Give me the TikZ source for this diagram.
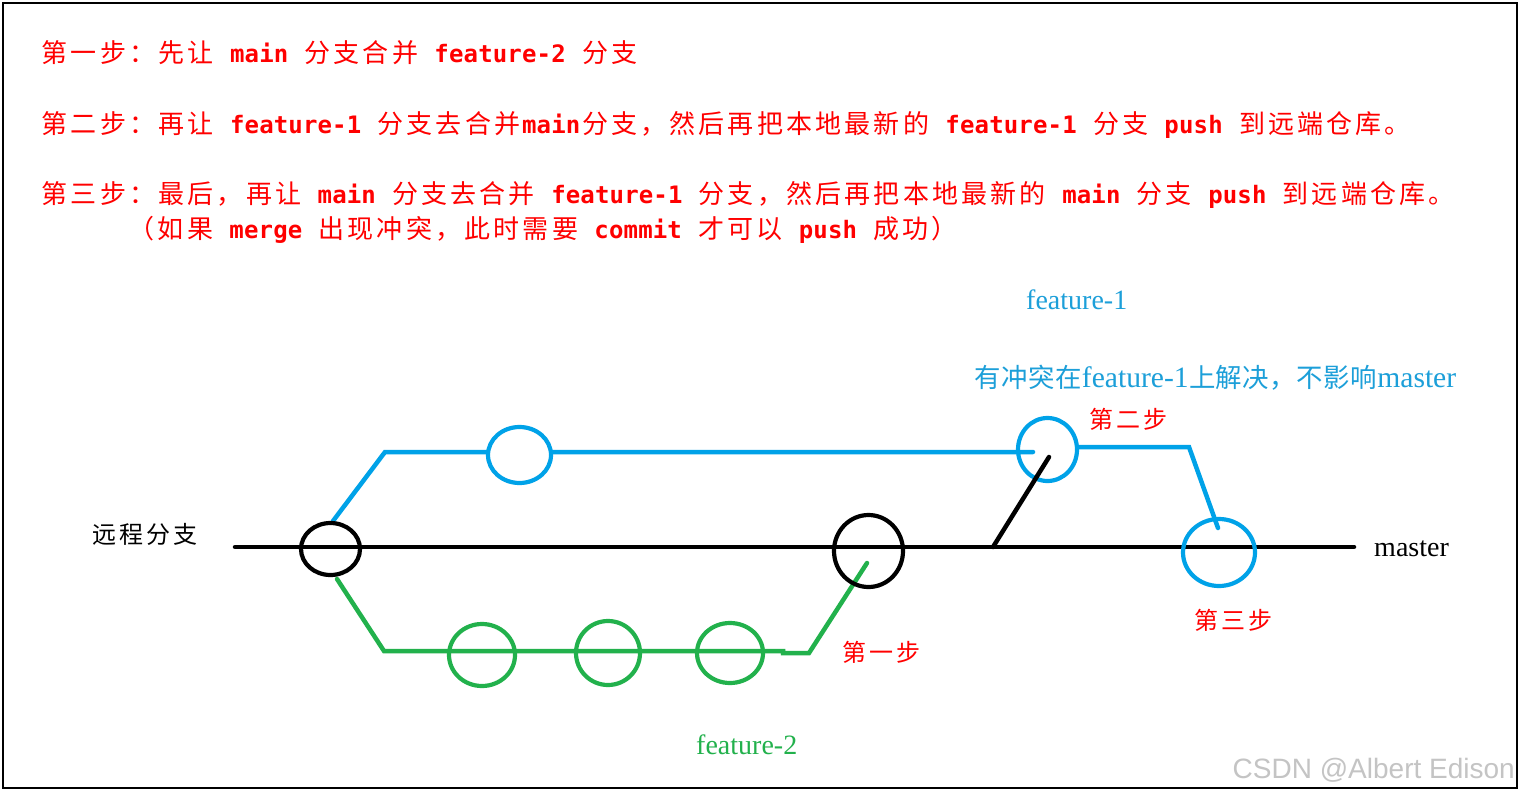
\documentclass[tikz,border=0pt]{standalone}
\usepackage{graphicx}
\usepackage{fontspec}
\setmainfont{Liberation Serif}
\newfontfamily\cjkf{Noto Sans CJK SC}
\newfontfamily\monof{DejaVu Sans Mono}
\newfontfamily\wmf{Liberation Sans}
\usetikzlibrary{shapes.geometric}
\definecolor{stepred}{HTML}{FF0000}
\definecolor{f1blue}{HTML}{00A2E8}
\definecolor{f1text}{HTML}{1C9FD9}
\definecolor{f2green}{HTML}{22B14C}
\definecolor{wmgray}{HTML}{C4C4C4}

\makeatletter
\def\my@sptok{~}
\newcommand\monoline[1]{\@tfor\my@ch:=#1\do{\my@monochar}}
\newcommand\my@monochar{%
  \ifx\my@ch\my@sptok\hbox to 14.6pt{}%
  \else
    \ifnum\expandafter`\my@ch>255\relax
      \hbox to 29.2pt{\hss\cjkf\fontsize{26pt}{26pt}\selectfont\my@ch\hss}%
    \else
      \hbox to 14.6pt{\hss\monof\bfseries\fontsize{24pt}{24pt}\selectfont\my@ch\hss}%
    \fi
  \fi}
\newcommand\spreadcjk[2]{\@tfor\my@ch:=#2\do{\hbox to #1{\hss\my@ch\hss}}}
\makeatother

\tikzset{
  commit/.style={ellipse, draw, line width=4.2pt, inner sep=0pt, outer sep=0pt},
  branch/.style={line width=4.5pt, line cap=round},
  toptext/.style={anchor=base west, inner sep=0pt, text=stepred},
  steplabel/.style={inner sep=0pt, text=stepred, font=\cjkf\fontsize{24pt}{24pt}\selectfont},
  seriflabel/.style={inner sep=0pt, font=\rmfamily\fontsize{28pt}{28pt}\selectfont},
}

\begin{document}
\begin{tikzpicture}[x=1pt,y=-1pt]
\useasboundingbox (0,0) rectangle (1520,792);
\fill[white] (0,0) rectangle (1520,792);
\draw[line width=2pt] (3,3) rectangle (1517,788);

% top text
\node[toptext] (s1) at (40,63) {\monoline{第一步：先让~main~分支合并~feature-2~分支}};
\node[toptext] (s2) at (40,133) {\monoline{第二步：再让~feature-1~分支去合并main分支，然后再把本地最新的~feature-1~分支~push~到远端仓库。}};
\node[toptext] (s3) at (40,203) {\monoline{第三步：最后，再让~main~分支去合并~feature-1~分支，然后再把本地最新的~main~分支~push~到远端仓库。}};
\node[toptext] (s4) at (127,238) {\monoline{（如果~merge~出现冲突，此时需要~commit~才可以~push~成功）}};

% coordinates
\coordinate (mainL) at (235,547);
\coordinate (mainR) at (1354,547);
\coordinate (f1a) at (333,521);
\coordinate (f1b) at (385,452);
\coordinate (f1c) at (1033,452);
\coordinate (f1d) at (1079,447);
\coordinate (f1e) at (1189,447);
\coordinate (f1f) at (1218,528);
\coordinate (f2a) at (337,579);
\coordinate (f2b) at (384,651);
\coordinate (f2c) at (783,651);
\coordinate (f2d) at (783,653);
\coordinate (f2e) at (809,653);
\coordinate (f2f) at (867,563);
\coordinate (mg1) at (993,547);
\coordinate (mg2) at (1049,457);

% lines
\draw[branch, black] (mainL) -- (mainR);
\draw[branch, f1blue] (f1a) -- (f1b) -- (f1c);
\draw[branch, f1blue] (f1d) -- (f1e) -- (f1f);
\draw[branch, f2green] (f2a) -- (f2b) -- (f2c) -- (f2d) -- (f2e) -- (f2f);

% commits
\node[commit, black, minimum width=59pt, minimum height=52pt] (C1) at (330.5,549) {};
\node[commit, black, minimum width=69pt, minimum height=72pt] (C2) at (868.5,551) {};
\node[commit, f1blue, fill=white, minimum width=63pt, minimum height=56pt] (B1) at (519.5,455) {};
\node[commit, f1blue, minimum width=59pt, minimum height=63pt] (B2) at (1047.5,449.5) {};
\node[commit, f1blue, minimum width=72pt, minimum height=67pt] (B3) at (1219,552.5) {};
\node[commit, f2green, minimum width=66pt, minimum height=62pt] (G1) at (482,655) {};
\node[commit, f2green, minimum width=64pt, minimum height=64pt] (G2) at (608,653) {};
\node[commit, f2green, minimum width=66pt, minimum height=60pt] (G3) at (730,653) {};

\draw[branch, black] (mg1) -- (mg2);

% labels
\node[inner sep=0pt, font=\cjkf\fontsize{24pt}{24pt}\selectfont] (remote) at (144.5,534) {\spreadcjk{27pt}{远程分支}};
\node[seriflabel, anchor=base west] (master) at (1374,556) {master};
\node[seriflabel, anchor=base west, text=f1text] (f1) at (1026,309) {feature-1};
\node[seriflabel, anchor=base west, text=f2green] (f2) at (696,754) {feature-2};
\node[inner sep=0pt, anchor=base west, text=f1text] (conf) at (974,387) {\resizebox{482pt}{!}{\cjkf\fontsize{25pt}{25pt}\selectfont\spreadcjk{25.5pt}{有冲突在}{\rmfamily\fontsize{28pt}{28pt}\selectfont feature-1}\spreadcjk{25.5pt}{上解决，不影响}{\rmfamily\fontsize{28pt}{28pt}\selectfont master}}};
\node[steplabel] (st1) at (881,652) {\spreadcjk{27pt}{第一步}};
\node[steplabel] (st2) at (1128,419) {\spreadcjk{27pt}{第二步}};
\node[steplabel] (st3) at (1233,620) {\spreadcjk{27pt}{第三步}};

\node[anchor=base east, inner sep=0pt, text=wmgray, font=\wmf\fontsize{28pt}{28pt}\selectfont] (wm) at (1515,778) {CSDN @Albert Edison};
\end{tikzpicture}
\end{document}
